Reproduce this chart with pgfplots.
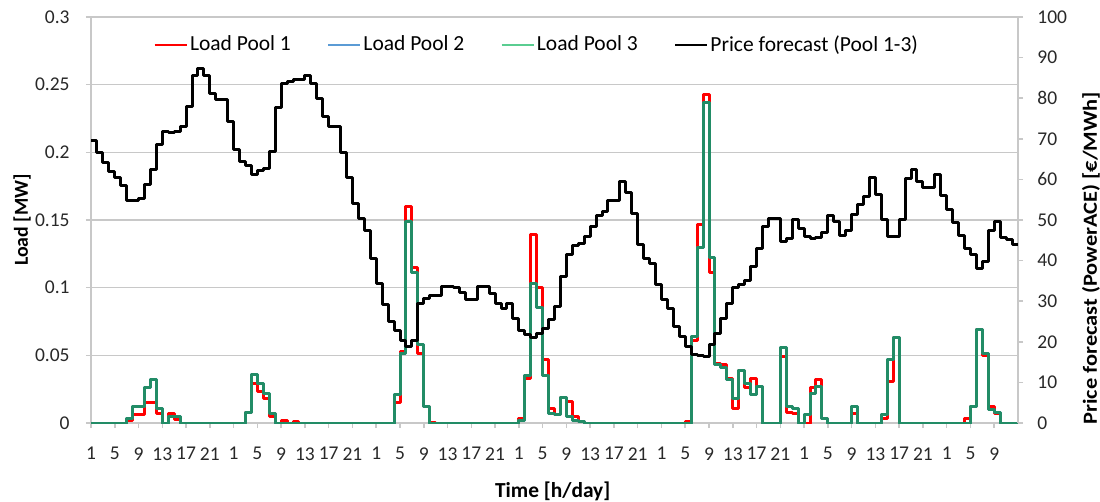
\documentclass[border=0pt]{standalone}
\usepackage{graphicx}
\usepackage{pgfplots}
\pgfplotsset{compat=1.18}
\usepackage{pgfplotstable}
\usepackage{fontspec}
\setmainfont{Carlito}
\definecolor{gridgray}{RGB}{200,200,200}
\definecolor{poolred}{RGB}{255,0,0}
\definecolor{poolblue}{RGB}{91,155,213}
\definecolor{poolgreen}{RGB}{34,140,102}
\definecolor{poolgreenlight}{RGB}{90,205,145}
\definecolor{labelgray}{RGB}{40,40,40}

\pgfplotstableread{
h p1 p3 pr
1 0 0 69.5
2 0 0 66.7
3 0 0 64.2
4 0 0 61.9
5 0 0 60.4
6 0 0 58.5
7 0.002 0.003 54.8
8 0.006 0.012 54.8
9 0.006 0.012 55.3
10 0.015 0.026 58.8
11 0.015 0.032 62.5
12 0.007 0.011 68.6
13 0 0 71.8
14 0.007 0.005 71.5
15 0.0025 0.005 71.8
16 0 0 73.0
17 0 0 77.9
18 0 0 85.7
19 0 0 87.2
20 0 0 85.5
21 0 0 81.2
22 0 0 79.6
23 0 0 79.6
24 0 0 74.2
25 0 0 67.4
26 0 0 64.4
27 0.008 0.008 63.3
28 0.029 0.036 61.3
29 0.023 0.029 62.1
30 0.018 0.022 62.6
31 0.005 0.007 66.8
32 0 0 77.7
33 0.0015 0 83.5
34 0 0 84.1
35 0.001 0 84.5
36 0 0 84.6
37 0 0 85.7
38 0 0 83.7
39 0 0 80.0
40 0 0 75.5
41 0 0 73.0
42 0 0 73.0
43 0 0 66.6
44 0 0 60.4
45 0 0 54.1
46 0 0 50.4
47 0 0 47.5
48 0 0 40.6
49 0 0 34.4
50 0 0 29.2
51 0 0 25.0
52 0.015 0.021 22.7
53 0.053 0.051 20.4
54 0.160 0.149 18.8
55 0.115 0.111 20.2
56 0.051 0.058 29.5
57 0.012 0.012 30.7
58 0.0005 0 31.5
59 0 0 31.5
60 0 0 33.7
61 0 0 33.7
62 0 0 33.4
63 0 0 32.2
64 0 0 30.3
65 0 0 30.3
66 0 0 33.7
67 0 0 33.7
68 0 0 31.9
69 0 0 29.5
70 0 0 28.2
71 0 0 29.5
72 0 0 25.8
73 0.003 0.002 22.9
74 0.033 0.035 21.7
75 0.139 0.103 21.0
76 0.100 0.085 22.1
77 0.047 0.035 23.2
78 0.011 0.007 25.4
79 0.006 0.006 28.7
80 0.019 0.019 36.2
81 0.016 0.005 41.4
82 0.005 0.002 43.6
83 0.001 0.001 44.3
84 0 0 45.9
85 0 0 48.4
86 0 0 51.1
87 0 0 52.2
88 0 0 54.8
89 0 0 54.8
90 0 0 59.6
91 0 0 56.8
92 0 0 51.6
93 0 0 44.0
94 0 0 40.4
95 0 0 39.3
96 0 0 34.2
97 0 0 30.3
98 0 0 28.1
99 0 0 23.7
100 0 0 21.3
101 0.001 0 18.8
102 0.061 0.064 16.9
103 0.147 0.130 16.7
104 0.243 0.237 16.5
105 0.111 0.122 19.4
106 0.044 0.043 22.1
107 0.043 0.041 25.8
108 0.033 0.032 29.5
109 0.011 0.018 33.4
110 0.039 0.039 34.0
111 0.026 0.029 35.2
112 0.033 0.021 38.5
113 0.027 0.027 43.0
114 0 0 48.4
115 0 0 50.4
116 0 0 50.4
117 0.049 0.056 44.8
118 0.008 0.012 45.5
119 0.007 0.011 50.2
120 0 0 47.9
121 0 0.006 45.9
122 0.026 0.022 45.5
123 0.032 0.027 45.6
124 0.003 0.003 47.0
125 0 0 51.0
126 0 0 49.6
127 0 0 46.3
128 0 0 47.5
129 0.007 0.012 51.4
130 0 0 53.7
131 0 0 55.7
132 0 0 60.4
133 0 0 56.3
134 0.003 0.006 50.0
135 0.031 0.047 45.9
136 0.063 0.063 45.9
137 0 0 50.2
138 0 0 60.1
139 0 0 62.5
140 0 0 59.6
141 0 0 58.0
142 0 0 58.0
143 0 0 61.1
144 0 0 56.0
145 0 0 52.5
146 0 0 49.3
147 0 0 46.1
148 0.003 0 43.0
149 0.012 0.012 41.4
150 0.069 0.069 38.1
151 0.050 0.051 39.9
152 0.012 0.010 47.5
153 0.007 0.008 49.6
154 0 0 45.6
155 0 0 45.2
156 0 0 44.0
157 0 0 44.0
}\datatable

\pgfplotsset{
  commonaxis/.style={
    at={(0,0)}, anchor=south west,
    scale only axis, width=463.5bp, height=203bp,
    xmin=1, xmax=157,
    axis line style={gridgray, line width=0.75bp},
    tick style={gridgray, line width=0.75bp},
    tick align=outside, major tick length=2.5bp,
    ticklabel style={font=\fontsize{9.75bp}{11bp}\selectfont, text=labelgray},
    /pgf/number format/assume math mode=true,
    label style={font=\bfseries\fontsize{10.7bp}{12bp}\selectfont, text=black},
  },
}

\begin{document}
\begin{tikzpicture}
\path[use as bounding box] (-45.5bp,-39.5bp) rectangle (504.5bp,211.5bp);
\begin{axis}[
  commonaxis,
  ymin=0, ymax=0.3,
  xtick={1,5,...,153},
  xticklabels={1,5,9,13,17,21,1,5,9,13,17,21,1,5,9,13,17,21,1,5,9,13,17,21,1,5,9,13,17,21,1,5,9,13,17,21,1,5,9},
  ytick={0,0.05,0.1,0.15,0.2,0.25,0.3},
  yticklabels={0,0.05,0.1,0.15,0.2,0.25,0.3},
  xtick pos=bottom, ytick pos=left,
  ymajorgrids, major grid style={gridgray, line width=0.75bp},
  xticklabel style={anchor=north, inner sep=0pt, yshift=-9.5bp},
  yticklabel style={anchor=east, inner sep=0pt, xshift=-8bp},
  xlabel={Time [h/day]},
  ylabel={Load [MW]},
  xlabel style={at={(rel axis cs:0.498,-0.1675)}, anchor=center},
  ylabel style={at={(rel axis cs:-0.0744,0.5)}, anchor=center, rotate=0,
    font=\bfseries\fontsize{9.9bp}{12bp}\selectfont},
]
\addplot[const plot, poolred, line width=1.5bp, line join=round] table[x=h, y=p1] {\datatable};
\addplot[const plot, poolblue, line width=1.5bp, line join=round] table[x=h, y=p3] {\datatable};
\addplot[const plot, poolgreen, line width=1.5bp, line join=round] table[x=h, y=p3] {\datatable};
\end{axis}
\begin{axis}[
  commonaxis,
  ymin=0, ymax=100,
  axis x line=none, axis y line*=right,
  ytick={0,10,...,100},
  yticklabel style={anchor=west, inner sep=0pt, xshift=7bp},
  ylabel={\scalebox{1.12}[1]{Price forecast (PowerACE) [€/MWh]}},
  ylabel style={at={(rel axis cs:1.0787,0.406)}, anchor=center, rotate=0,
    font=\bfseries\fontsize{10bp}{12bp}\selectfont},
  legend columns=4,
  legend style={at={(rel axis cs:0.0669,0.931)}, anchor=west, draw=none, fill=none,
    inner sep=0pt, font=\fontsize{10.75bp}{12bp}\selectfont,
    nodes={inner xsep=1bp, inner ysep=1bp},
    /tikz/every even column/.append style={column sep=17bp}},
  legend cell align=left,
  legend image code/.code={\draw[#1] (0bp,0bp) -- (16bp,0bp);},
]
\addlegendimage{poolred, line width=1.3bp}
\addlegendentry{Load Pool 1}
\addlegendimage{poolblue, line width=1.3bp}
\addlegendentry{Load Pool 2}
\addlegendimage{poolgreenlight, line width=1.3bp}
\addlegendentry{Load Pool 3}
\addlegendimage{black, line width=1.3bp}
\addlegendentry{Price forecast (Pool 1-3)}
\addplot[const plot, black, line width=1.5bp, line join=round, forget plot] table[x=h, y=pr] {\datatable};
\end{axis}
\end{tikzpicture}
\end{document}
